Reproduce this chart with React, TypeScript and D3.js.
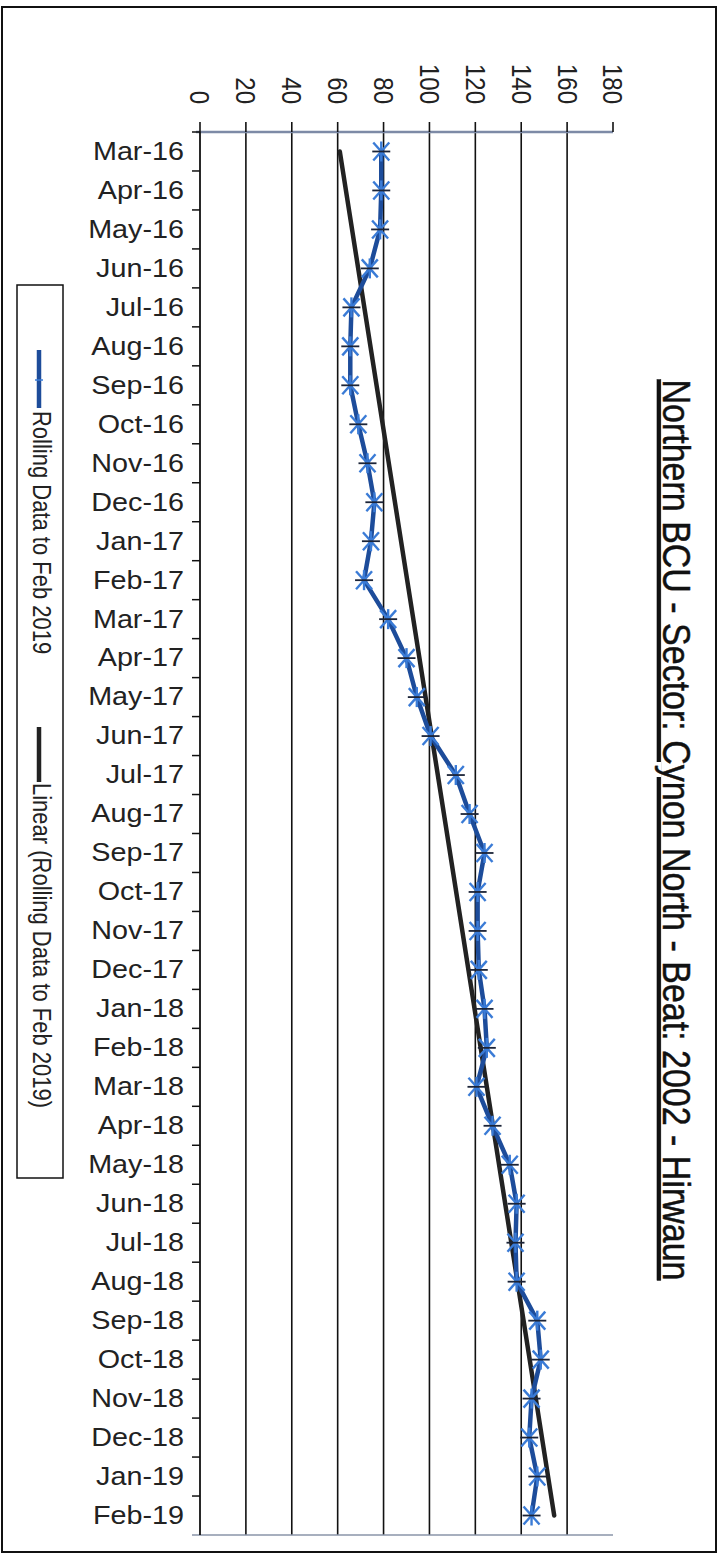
import { scaleLinear, scaleBand, mean, sum } from "d3";

const months = [
  "Mar-16", "Apr-16", "May-16", "Jun-16", "Jul-16", "Aug-16", "Sep-16", "Oct-16",
  "Nov-16", "Dec-16", "Jan-17", "Feb-17", "Mar-17", "Apr-17", "May-17", "Jun-17",
  "Jul-17", "Aug-17", "Sep-17", "Oct-17", "Nov-17", "Dec-17", "Jan-18", "Feb-18",
  "Mar-18", "Apr-18", "May-18", "Jun-18", "Jul-18", "Aug-18", "Sep-18", "Oct-18",
  "Nov-18", "Dec-18", "Jan-19", "Feb-19",
];

const rolling = [
  79, 79, 78.5, 74, 66, 65.5, 65.5, 69, 73, 76, 74.5, 71.5, 82, 90, 94.5, 100.5,
  111.5, 117.5, 124, 121, 121, 121.5, 124, 125, 120.5, 127.5, 135, 138, 137.5, 138,
  147, 148.5, 144.5, 143.5, 147, 144.5,
];

const valueTicks = [0, 20, 40, 60, 80, 100, 120, 140, 160, 180];

const legendNames = ["Rolling Data to Feb 2019", "Linear (Rolling Data to Feb 2019)"];

const title = "Northern BCU - Sector: Cynon North - Beat: 2002 - Hirwaun";

const font = "'Liberation Sans', Arial, sans-serif";
const stretch = 1.15;
const lineBlue = "#1d4c9a";
const markBlue = "#3a7bd6";

const width = 720;
const height = 1555;

// plot area (chart is drawn turned a quarter clockwise)
const plot = { left: 200, right: 613, top: 132, bottom: 1535 };

const App = () => {
  const xScale = scaleLinear().domain([0, 180]).range([plot.left, plot.right]);
  const yScale = scaleBand().domain(months).range([plot.top, plot.bottom]);
  const bw = yScale.bandwidth();
  const yMid = (m: string) => (yScale(m) as number) + bw / 2;

  // least squares trend line over month index
  const idx = months.map((_, i) => i);
  const mx = mean(idx) as number;
  const my = mean(rolling) as number;
  const slope =
    sum(idx, (i) => (i - mx) * (rolling[i] - my)) /
    sum(idx, (i) => (i - mx) * (i - mx));
  const intercept = my - slope * mx;
  const trendStart = intercept;
  const trendEnd = intercept + slope * (months.length - 1);

  const seriesPath = rolling
    .map((v, i) => `${i ? "L" : "M"}${xScale(v)},${yMid(months[i])}`)
    .join("");

  return (
    <svg
      width={width}
      height={height}
      style={{ position: "absolute", left: 0, top: 0, background: "#fff" }}
      fontFamily={font}
    >
      <rect x={2} y={7} width={714} height={1545} fill="#fff" stroke="#111" strokeWidth={2} />

      {/* title */}
      <text
        transform={`translate(663,830) rotate(90) scale(1,${stretch})`}
        textAnchor="middle"
        fontSize={34}
        fill="#111"
        stroke="#111"
        strokeWidth={0.4}
        style={{ textDecoration: "underline" }}
      >
        {title}
      </text>

      {/* gridlines */}
      {valueTicks
        .filter((t) => t > 0 && t < 180)
        .map((t) => (
          <line
            key={t}
            x1={xScale(t)}
            x2={xScale(t)}
            y1={plot.top}
            y2={plot.bottom}
            stroke="#111"
            strokeWidth={1.6}
          />
        ))}

      {/* bottom border of plot */}
      <line x1={192} x2={plot.right} y1={plot.bottom} y2={plot.bottom} stroke="#8a94a8" strokeWidth={1.5} />

      {/* value axis (top) */}
      <line x1={plot.left - 4} x2={plot.right} y1={plot.top} y2={plot.top} stroke="#7d8aa6" strokeWidth={2.5} />
      {valueTicks.map((t) => (
        <g key={t}>
          <line x1={xScale(t)} x2={xScale(t)} y1={122} y2={plot.top} stroke="#111" strokeWidth={1.6} />
          <text
            transform={`translate(${xScale(t)},104) rotate(90) scale(1,${stretch})`}
            textAnchor="end"
            dominantBaseline="central"
            fontSize={24}
            fill="#222"
          >
            {t}
          </text>
        </g>
      ))}

      {/* category axis (left) */}
      <line x1={plot.left} x2={plot.left} y1={plot.top} y2={plot.bottom} stroke="#111" strokeWidth={1.8} />
      {months.map((m) => (
        <g key={m}>
          <line
            x1={192}
            x2={plot.left}
            y1={yScale(m) as number}
            y2={yScale(m) as number}
            stroke="#111"
            strokeWidth={1.5}
          />
          <text
            transform={`translate(184,${yMid(m)}) scale(${stretch},1)`}
            textAnchor="end"
            dominantBaseline="central"
            fontSize={25}
            fill="#222"
          >
            {m}
          </text>
        </g>
      ))}

      {/* trend line */}
      <line
        x1={xScale(trendStart)}
        y1={yMid(months[0])}
        x2={xScale(trendEnd)}
        y2={yMid(months[months.length - 1])}
        stroke="#222"
        strokeWidth={4.5}
        strokeLinecap="round"
      />

      {/* rolling series */}
      <path d={seriesPath} fill="none" stroke={lineBlue} strokeWidth={4.5} strokeLinejoin="round" />
      {rolling.map((v, i) => {
        const cx = xScale(v);
        const cy = yMid(months[i]);
        return (
          <g key={months[i]}>
            <line x1={cx - 8} y1={cy - 9} x2={cx + 8} y2={cy + 9} stroke={markBlue} strokeWidth={2.4} />
            <line x1={cx - 8} y1={cy + 9} x2={cx + 8} y2={cy - 9} stroke={markBlue} strokeWidth={2.4} />
            <line x1={cx} y1={cy - 10} x2={cx} y2={cy + 10} stroke={markBlue} strokeWidth={2.4} />
            <line x1={cx - 9} y1={cy} x2={cx + 9} y2={cy} stroke="#1b2438" strokeWidth={1.8} />
          </g>
        );
      })}

      {/* legend */}
      <rect x={17} y={285} width={46} height={893} fill="#fff" stroke="#111" strokeWidth={1.5} />
      <line x1={39} x2={39} y1={350} y2={408} stroke={lineBlue} strokeWidth={4.5} />
      <line x1={35} x2={43} y1={380} y2={380} stroke={markBlue} strokeWidth={1.5} />
      <text
        transform={`translate(33,411) rotate(90) scale(1,${stretch})`}
        fontSize={22}
        fill="#222"
      >
        {legendNames[0]}
      </text>
      <line x1={39} x2={39} y1={727} y2={782} stroke="#222" strokeWidth={4.5} />
      <text
        transform={`translate(33,783) rotate(90) scale(1,${stretch})`}
        fontSize={22}
        fill="#222"
      >
        {legendNames[1]}
      </text>
    </svg>
  );
};

export default App;
